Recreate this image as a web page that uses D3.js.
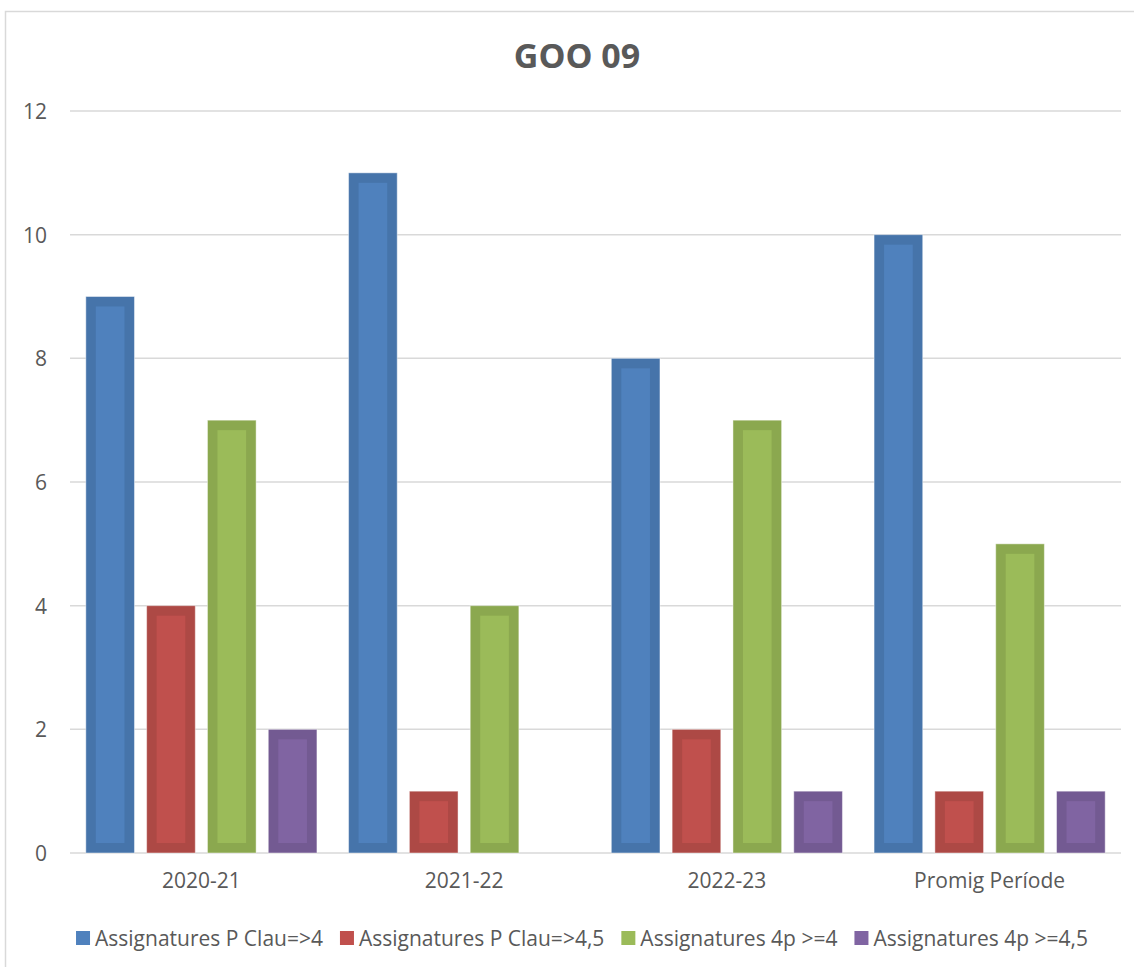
<!DOCTYPE html>
<html>
<head>
<meta charset="utf-8">
<script src="https://cdn.jsdelivr.net/npm/d3@7"></script>
<style>
  body { margin: 0; background: #fff; }
  text { font-family: "Open Sans", sans-serif; fill: #595959; }
</style>
</head>
<body>
<svg id="chart" width="1134" height="967"></svg>
<script>
const categories = ["2020-21", "2021-22", "2022-23", "Promig Període"];
const series = ["Assignatures P Clau=>4", "Assignatures P Clau=>4,5", "Assignatures 4p >=4", "Assignatures 4p >=4,5"];
const clau4 = [9, 11, 8, 10];
const clau45 = [4, 1, 2, 1];
const p4 = [7, 4, 7, 5];
const p45 = [2, 0, 1, 1];
const yTicks = [0, 2, 4, 6, 8, 10, 12];

const fills = ["#4f81bd", "#c0504d", "#9bbb59", "#8064a2"];
const edges = ["#4674aa", "#ad4945", "#8ba84f", "#735a92"];
const values = [clau4, clau45, p4, p45];

const svg = d3.select("#chart");
const plot = { left: 70, right: 1121, top: 111, bottom: 853 };

// chart frame
svg.append("rect")
    .attr("x", 5.5).attr("y", 11.5)
    .attr("width", 1140).attr("height", 970)
    .attr("fill", "none").attr("stroke", "#d9d9d9").attr("stroke-width", 1.5);

svg.append("text")
    .attr("x", 577).attr("y", 68)
    .attr("text-anchor", "middle")
    .style("font-size", "34px").style("font-weight", "bold")
    .text("GOO 09");

const x0 = d3.scaleBand().domain(categories).range([plot.left, plot.right]);
const x1 = d3.scaleBand().domain(d3.range(series.length))
    .range([0, x0.bandwidth()]).paddingInner(0.2).paddingOuter(0.26);
const y = d3.scaleLinear().domain([0, 12]).range([plot.bottom, plot.top]);

// gridlines
svg.append("g").selectAll("line")
    .data(yTicks)
    .join("line")
    .attr("x1", plot.left).attr("x2", plot.right)
    .attr("y1", d => y(d)).attr("y2", d => y(d))
    .attr("stroke", "#d9d9d9").attr("stroke-width", 1.5);

const yAxis = svg.append("g")
    .attr("transform", `translate(${plot.left - 23},0)`)
    .call(d3.axisLeft(y).tickValues(yTicks).tickSize(0).tickPadding(0));
yAxis.select(".domain").remove();
yAxis.selectAll("text").style("font-size", "21px").attr("dy", "0.35em").attr("fill", "#595959");

const xAxis = svg.append("g")
    .attr("transform", `translate(0,${plot.bottom})`)
    .call(d3.axisBottom(x0).tickSize(0).tickPadding(20));
xAxis.select(".domain").remove();
xAxis.selectAll("text").style("font-size", "21px").attr("fill", "#595959");

// bars: darker frame + lighter inner face
const b = 10;
series.forEach((s, si) => {
    const g = svg.append("g");
    const data = categories.map((c, ci) => ({ c, v: values[si][ci] })).filter(d => d.v > 0);
    g.selectAll("rect.outer")
        .data(data)
        .join("rect")
        .attr("class", "outer")
        .attr("x", d => x0(d.c) + x1(si))
        .attr("y", d => y(d.v))
        .attr("width", x1.bandwidth())
        .attr("height", d => y(0) - y(d.v))
        .attr("fill", edges[si])
        .attr("stroke", "rgba(255,255,255,0.45)").attr("stroke-width", 1);
    g.selectAll("rect.inner")
        .data(data)
        .join("rect")
        .attr("class", "inner")
        .attr("x", d => x0(d.c) + x1(si) + b)
        .attr("y", d => y(d.v) + b)
        .attr("width", x1.bandwidth() - 2 * b)
        .attr("height", d => Math.max(0, y(0) - y(d.v) - 2 * b))
        .attr("fill", fills[si]);
});

// legend
const legend = svg.append("g");
const items = legend.selectAll("g").data(series).join("g");
items.append("rect")
    .attr("width", 14).attr("height", 14)
    .attr("y", -15)
    .attr("fill", (d, i) => fills[i]);
items.append("text")
    .attr("x", 19).attr("y", 0)
    .style("font-size", "21px")
    .text(d => d);
const widths = [];
items.each(function () { widths.push(this.getBBox().width); });
const gap = 17;
const total = d3.sum(widths) + gap * (widths.length - 1);
let lx = 582 - total / 2;
items.attr("transform", (d, i) => {
    const t = `translate(${lx},946)`;
    lx += widths[i] + gap;
    return t;
});
</script>
</body>
</html>
